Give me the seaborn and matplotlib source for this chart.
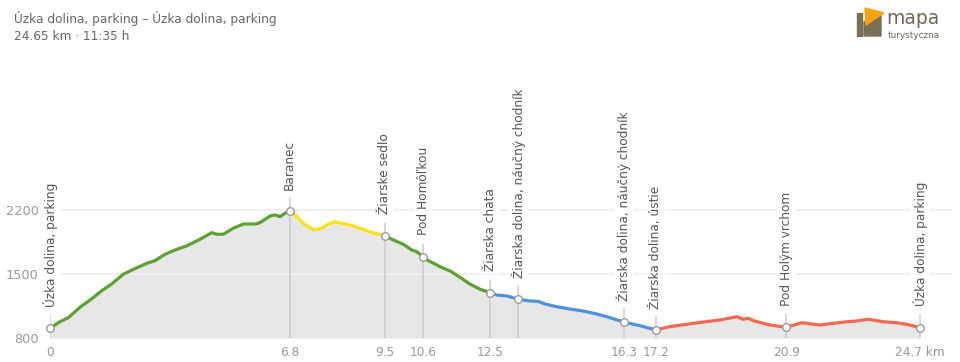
import matplotlib
matplotlib.use("Agg")
import matplotlib.pyplot as plt
import seaborn as sns
import numpy as np
from matplotlib.patches import Rectangle, Polygon

# ---------------- data ----------------
dist_km = [0, 0.28, 0.52, 0.85, 1.14, 1.47, 1.75, 2.08, 2.37, 2.75, 2.98, 3.27, 3.60, 3.88, 4.26,
           4.59, 4.73, 4.92, 5.20, 5.49, 5.82, 5.96, 6.25, 6.39, 6.53, 6.67, 6.8,
           6.96, 7.19, 7.48, 7.71, 7.90, 8.09, 8.38, 8.52, 8.80, 9.04, 9.28, 9.5,
           9.75, 10.03, 10.27, 10.41, 10.6, 10.74, 10.93, 11.07, 11.36, 11.64, 11.92, 12.21, 12.5,
           12.68, 12.97, 13.3, 13.63, 13.86, 14.05, 14.39, 14.76, 15.14, 15.52, 15.81, 16.04, 16.3,
           16.56, 16.75, 17.2,
           17.60, 18.08, 18.55, 19.02, 19.50, 19.68, 19.83, 19.97, 20.44, 20.9, 21.34, 21.86, 22.24,
           22.62, 22.90, 23.23, 23.66, 24.04, 24.32, 24.7]
elev_m = [906, 978, 1022, 1136, 1216, 1317, 1391, 1497, 1552, 1617, 1646, 1716, 1770, 1807, 1880,
          1952, 1935, 1935, 2000, 2047, 2047, 2061, 2135, 2146, 2127, 2164, 2190,
          2146, 2055, 1982, 2000, 2044, 2072, 2044, 2036, 2000, 1967, 1938, 1919,
          1872, 1825, 1763, 1744, 1690, 1646, 1610, 1580, 1533, 1464, 1391, 1333, 1296,
          1270, 1260, 1223, 1205, 1201, 1172, 1142, 1117, 1095, 1063, 1033, 1005, 975,
          950, 935, 888,
          924, 950, 975, 997, 1033, 1005, 1016, 989, 942, 917, 967, 942, 961,
          978, 986, 1005, 978, 967, 950, 913]

# trail segments (start km, end km, colour)
seg_start = [0, 6.8, 9.5, 12.5, 17.2]
seg_end = [6.8, 9.5, 12.5, 17.2, 24.7]
seg_color = ["#5ba232", "#fbe20f", "#5ba232", "#4a93e0", "#f4684e"]

# waypoints
wp_names = ["Úzka dolina, parking", "Baranec", "Žiarske sedlo", "Pod Homôľkou", "Žiarska chata",
            "Žiarska dolina, náučný chodník", "Žiarska dolina, náučný chodník",
            "Žiarska dolina, ústie", "Pod Holým vrchom", "Úzka dolina, parking"]
wp_km = [0, 6.8, 9.5, 10.6, 12.5, 13.3, 16.3, 17.2, 20.9, 24.7]

tick_pos = [0, 6.8, 9.5, 10.6, 12.5, 16.3, 17.2, 20.9, 24.7]
tick_labels = ["0", "6.8", "9.5", "10.6", "12.5", "16.3", "17.2", "20.9", "24.7 km"]
ytick_vals = [800, 1500, 2200]

title1 = "Úzka dolina, parking – Úzka dolina, parking"
title2 = "24.65 km · 11:35 h"

# ---------------- figure ----------------
sns.set_style("white")
plt.rcParams["font.family"] = ["DejaVu Sans"]

W, H = 960, 362
fig = plt.figure(figsize=(W / 100, H / 100), dpi=100)
px_per_km = 870 / 24.7
px_per_m = 64 / 700
ax_left, ax_right, ax_top, ax_bottom = 50, 952, 20, 338
ax = fig.add_axes([ax_left / W, (H - ax_bottom) / H, (ax_right - ax_left) / W, (ax_bottom - ax_top) / H])
ax.set_xlim(0, (ax_right - ax_left) / px_per_km)
ax.set_ylim(800, 800 + (ax_bottom - ax_top) / px_per_m)

d = np.array(dist_km)
e = np.array(elev_m)

ax.fill_between(d, 800, e, color="#e7e7e7", linewidth=0, zorder=1)
for yv in [1500, 2200]:
    ax.axhline(yv, color="#efefef", linewidth=1.5, zorder=2)

# waypoint vertical lines
wp_elev = [float(np.interp(k, d, e)) for k in wp_km]
for k, el in zip(wp_km, wp_elev):
    ax.plot([k, k], [800, el + 142], color="#cccccc", linewidth=1.1, zorder=3)

# coloured profile segments
for s0, s1, c in zip(seg_start, seg_end, seg_color):
    m = (d >= s0 - 1e-9) & (d <= s1 + 1e-9)
    sns.lineplot(x=d[m], y=e[m], color=c, linewidth=2.3, ax=ax, sort=False,
                 estimator=None, zorder=4, solid_capstyle="round", solid_joinstyle="round")

sns.scatterplot(x=wp_km, y=wp_elev, s=30, color="white", edgecolor="#9a9a9a",
                linewidth=1.0, ax=ax, zorder=6, clip_on=False)

for name, k, el in zip(wp_names, wp_km, wp_elev):
    ax.annotate(name, xy=(k, el), xytext=(0, 15.3), textcoords="offset points",
                rotation=90, ha="center", va="bottom", fontsize=8.7, color="#555555",
                bbox=dict(boxstyle="square,pad=0.2", fc="white", ec="none"), zorder=7,
                annotation_clip=False)

ax.set_xticks(tick_pos)
ax.set_xticklabels(tick_labels)
ax.set_yticks(ytick_vals)
ax.set_yticklabels([str(v) for v in ytick_vals])
ax.tick_params(axis="x", length=0, pad=6, labelsize=8.7, labelcolor="#999999")
ax.tick_params(axis="y", length=0, pad=8, labelsize=9.3, labelcolor="#999999")
for sp in ax.spines.values():
    sp.set_visible(False)
ax.set_xlabel("")
ax.set_ylabel("")

# title
fig.text(14 / W, 1 - 23 / H, title1, fontsize=8.7, color="#666666", va="baseline", ha="left")
fig.text(14 / W, 1 - 40 / H, title2, fontsize=8.7, color="#666666", va="baseline", ha="left")

# logo
def P(x, y):
    return (x / W, 1 - y / H)

fig.patches.append(Rectangle(P(857, 36), 5 / W, 23 / H, transform=fig.transFigure,
                             color="#777157", zorder=5))
fig.patches.append(Polygon([P(864, 36), P(881, 36), P(881, 14), P(864, 22)], closed=True,
                           transform=fig.transFigure, color="#777157", zorder=5))
fig.patches.append(Polygon([P(865, 8), P(884, 13), P(866, 25)], closed=True,
                           transform=fig.transFigure, color="#f7a20f", zorder=6))
fig.text(886 / W, 1 - 23.5 / H, "mapa", fontsize=13.5, color="#6e6858", ha="left", va="baseline")
fig.text(888 / W, 1 - 38 / H, "turystyczna", fontsize=6.4, color="#6e6858", ha="left", va="baseline")

fig.savefig("out.png", dpi=100, facecolor="white")
